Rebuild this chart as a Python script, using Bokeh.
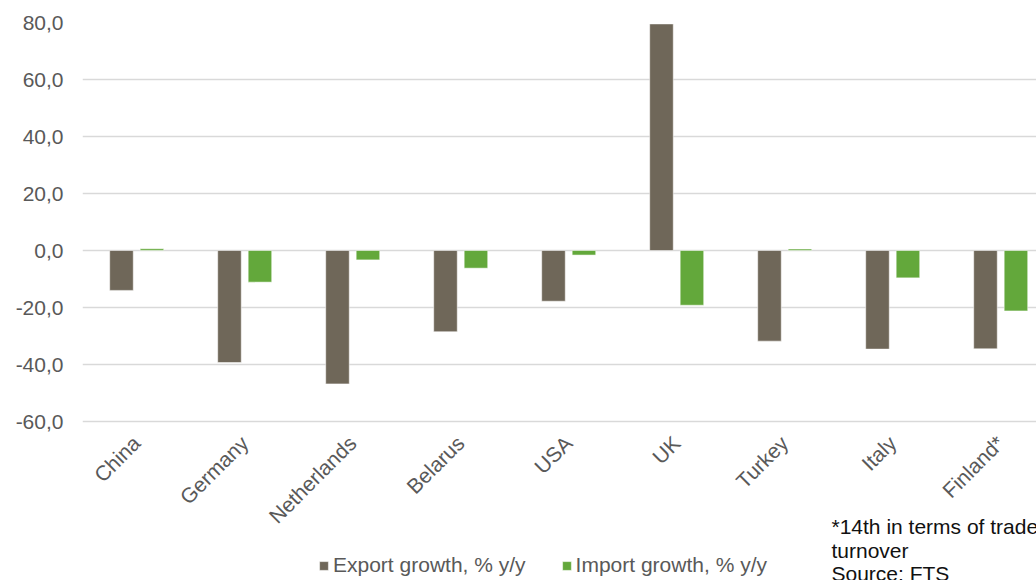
import math
from bokeh.plotting import figure
from bokeh.models import (ColumnDataSource, Range1d, FixedTicker, Legend, LegendItem, Label)
from bokeh.transform import dodge
from bokeh.embed import file_html
from bokeh.resources import INLINE

countries = ["China", "Germany", "Netherlands", "Belarus", "USA", "UK", "Turkey", "Italy", "Finland*"]
export_growth = [-14.0, -39.3, -46.8, -28.5, -17.8, 79.5, -31.8, -34.6, -34.5]
import_growth = [0.6, -11.1, -3.3, -6.2, -1.6, -19.2, 0.5, -9.6, -21.2]
y_ticks = [-60, -40, -20, 0, 20, 40, 60, 80]
y_tick_labels = ["-60,0", "-40,0", "-20,0", "0,0", "20,0", "40,0", "60,0", "80,0"]
series_names = ["Export growth, % y/y", "Import growth, % y/y"]
footnote = ["*14th in terms of trade", "turnover", "Source: FTS"]

EXPORT_COLOR = "#6f6759"
IMPORT_COLOR = "#63a83b"
TEXT_COLOR = "#595959"
FONT = "Liberation Sans"

pos = [i + 0.5 for i in range(len(countries))]
src = ColumnDataSource(dict(x=pos, exp=export_growth, imp=import_growth))

W, H = 1036, 580
left, top = 82, 22
cat_px = 108.0
x_end = (W - left) / cat_px
y_min, y_max = min(y_ticks), max(y_ticks)
axis_bottom_px = 421  # where the lowest gridline sits
px_per_unit = (axis_bottom_px - top) / (y_max - y_min)
y_start = y_min - (H - axis_bottom_px) / px_per_unit

p = figure(width=W, height=H, output_backend="svg", toolbar_location=None,
           x_range=Range1d(0, x_end), y_range=Range1d(y_start, y_max),
           min_border_left=left, min_border_right=0, min_border_top=top,
           min_border_bottom=0)
p.outline_line_color = None
p.background_fill_color = "white"
p.border_fill_color = "white"

r1 = p.vbar(x=dodge("x", -0.139, range=p.x_range), top="exp", bottom=0, width=0.218,
            source=src, fill_color=EXPORT_COLOR, line_color="white", line_alpha=0.5, line_width=1)
r2 = p.vbar(x=dodge("x", 0.143, range=p.x_range), top="imp", bottom=0, width=0.218,
            source=src, fill_color=IMPORT_COLOR, line_color="white", line_alpha=0.5, line_width=1)

# axes
p.yaxis.ticker = FixedTicker(ticks=y_ticks)
p.yaxis.major_label_overrides = {t: l for t, l in zip(y_ticks, y_tick_labels)}
p.yaxis.axis_line_color = None
p.yaxis.major_tick_line_color = None
p.yaxis.minor_tick_line_color = None
p.yaxis.major_tick_out = 0
p.yaxis.major_tick_in = 0
p.yaxis.minor_tick_out = 0
p.yaxis.major_label_standoff = 19
p.yaxis.major_label_text_font = FONT
p.yaxis.major_label_text_font_size = "21px"
p.yaxis.major_label_text_color = TEXT_COLOR

p.xaxis.fixed_location = y_min
p.xaxis.ticker = FixedTicker(ticks=pos)
p.xaxis.major_label_overrides = {x: c for x, c in zip(pos, countries)}
p.xaxis.major_label_orientation = math.pi / 4
p.xaxis.axis_line_color = None
p.xaxis.major_tick_line_color = None
p.xaxis.minor_tick_line_color = None
p.xaxis.major_tick_out = 0
p.xaxis.major_tick_in = 0
p.xaxis.minor_tick_out = 0
p.xaxis.major_label_standoff = 18
p.xaxis.major_label_text_font = FONT
p.xaxis.major_label_text_font_size = "21px"
p.xaxis.major_label_text_color = TEXT_COLOR

p.xgrid.grid_line_color = None
p.ygrid.ticker = FixedTicker(ticks=y_ticks)
p.ygrid.grid_line_color = "#d9d9d9"
p.ygrid.grid_line_width = 1.5

legend = Legend(items=[LegendItem(label=series_names[0], renderers=[r1]),
                       LegendItem(label=series_names[1], renderers=[r2])],
                orientation="horizontal", location=(236, 3),
                padding=0, margin=0, spacing=35, label_standoff=4,
                glyph_width=11, glyph_height=11,
                label_text_font=FONT, label_text_font_size="21px",
                label_text_color=TEXT_COLOR,
                border_line_color=None, background_fill_alpha=0)
p.add_layout(legend, "center")

for i, line in enumerate(footnote):
    p.add_layout(Label(x=749, y=54 - 23.5 * i, x_units="screen", y_units="screen",
                       text=line, text_font=FONT, text_font_size="21px",
                       text_color="#111111", text_baseline="alphabetic"))

open("out.html", "w").write(file_html(p, INLINE))
